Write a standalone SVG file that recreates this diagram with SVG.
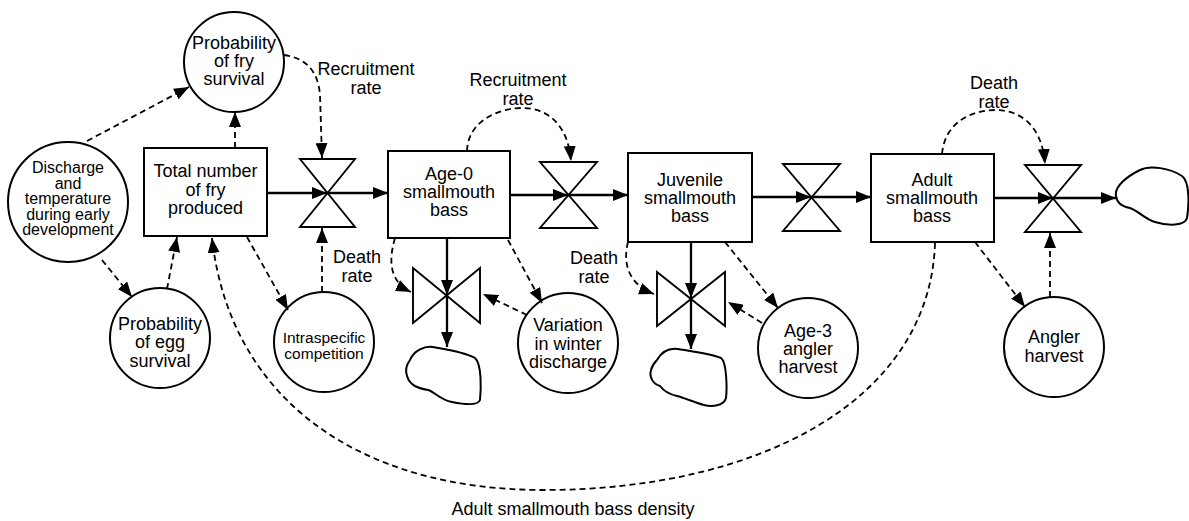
<svg xmlns="http://www.w3.org/2000/svg" width="1189" height="521" viewBox="0 0 1189 521">
<defs>
<style>
.shape{fill:#fff;stroke:#000;stroke-width:2}
.valve{fill:#fff;stroke:#000;stroke-width:1.9;stroke-linejoin:miter}
.cloud{fill:#fff;stroke:#000;stroke-width:2}
.flow{fill:none;stroke:#000;stroke-width:2.3;marker-end:url(#ah)}
.info{fill:none;stroke:#000;stroke-width:1.8;stroke-dasharray:6 4;marker-end:url(#ah)}
text{font-family:"Liberation Sans",Arial,Helvetica,sans-serif;font-size:18px;text-anchor:middle;fill:#000}
.sm{font-size:16px}
.xs{font-size:15.5px}
</style>
<marker id="ah" markerUnits="userSpaceOnUse" viewBox="0 0 15 12" markerWidth="15" markerHeight="12" refX="15" refY="6" orient="auto">
<path d="M0,0 L15,6 L0,12 z" fill="#000"/>
</marker>
</defs>

<g id="discharge">
<circle class="shape" cx="68" cy="202" r="60"/>
<text class="sm" x="68" y="173">Discharge</text>
<text class="sm" x="68" y="188.5">and</text>
<text class="sm" x="68" y="204">temperature</text>
<text class="sm" x="68" y="219.5">during early</text>
<text class="sm" x="68" y="235">development</text>
</g>

<g id="fry-survival">
<circle class="shape" cx="234" cy="62" r="50"/>
<text x="234" y="49">Probability</text>
<text x="234" y="67">of fry</text>
<text x="234" y="85">survival</text>
</g>

<g id="total-fry">
<rect class="shape" x="144" y="148" width="123" height="88"/>
<text x="205.5" y="177">Total number</text>
<text x="205.5" y="196">of fry</text>
<text x="205.5" y="214">produced</text>
</g>

<g id="egg-survival">
<circle class="shape" cx="160" cy="338" r="50"/>
<text x="160" y="330">Probability</text>
<text x="160" y="348">of egg</text>
<text x="160" y="367">survival</text>
</g>

<g id="intraspecific">
<circle class="shape" cx="324" cy="342" r="50"/>
<text class="xs" x="324" y="343">Intraspecific</text>
<text class="xs" x="324" y="359">competition</text>
</g>

<g id="valve-fry">
<path class="valve" d="M300,159 H355 L300,227 H355 Z"/>
</g>

<g id="age0">
<rect class="shape" x="388" y="151" width="122" height="87"/>
<text x="449" y="180">Age-0</text>
<text x="449" y="198">smallmouth</text>
<text x="449" y="216">bass</text>
</g>

<g id="valve-age0">
<path class="valve" d="M540,162 H597 L540,228 H597 Z"/>
</g>

<g id="juvenile">
<rect class="shape" x="628" y="153" width="124" height="89"/>
<text x="690" y="186">Juvenile</text>
<text x="690" y="204">smallmouth</text>
<text x="690" y="222">bass</text>
</g>

<g id="valve-juvenile">
<path class="valve" d="M783,164 H840 L783,231 H840 Z"/>
</g>

<g id="adult">
<rect class="shape" x="871" y="154" width="123" height="88"/>
<text x="932" y="186">Adult</text>
<text x="932" y="204">smallmouth</text>
<text x="932" y="222">bass</text>
</g>

<g id="valve-adult">
<path class="valve" d="M1025,165 H1081 L1025,232 H1081 Z"/>
</g>

<g id="sink-adult">
<path class="cloud" d="M1116,196 C1114,186 1128,176 1140,170 C1150,165 1170,168 1182,176 C1190,182 1189,205 1187,218 C1185,226 1168,226 1155,222 C1145,219 1140,212 1130,208 C1120,206 1117,202 1116,196 Z"/>
</g>

<g id="valve-age0-death">
<path class="valve" d="M413,268 V323 L480,268 V323 Z"/>
</g>

<g id="sink-age0">
<path class="cloud" d="M410,360 C414,350 425,346 433,347 C445,349 465,352 475,358 C482,364 481,390 480,400 C478,406 462,404 452,402 C440,400 435,392 428,390 C418,388 410,386 407,376 C405,370 407,364 410,360 Z"/>
</g>

<g id="variation">
<circle class="shape" cx="568" cy="343" r="50"/>
<text x="568" y="331">Variation</text>
<text x="568" y="349.5">in winter</text>
<text x="568" y="368">discharge</text>
</g>

<g id="valve-juvenile-death">
<path class="valve" d="M657,272 V326 L725,272 V326 Z"/>
</g>

<g id="sink-juvenile">
<path class="cloud" d="M657,360 C662,351 670,348 678,349 C690,351 712,354 721,358 C727,362 727,390 726,398 C724,406 712,407 704,405 C693,402 685,398 677,396 C668,394 663,390 660,386 C653,384 649,377 651,370 C652,366 654,363 657,360 Z"/>
</g>

<g id="age3">
<circle class="shape" cx="808" cy="348" r="50"/>
<text x="808" y="337">Age-3</text>
<text x="808" y="355">angler</text>
<text x="808" y="373">harvest</text>
</g>

<g id="angler">
<circle class="shape" cx="1054" cy="347" r="50"/>
<text x="1054" y="343">Angler</text>
<text x="1054" y="362">harvest</text>
</g>

<g id="connectors">
<path class="flow" d="M267,193 H327"/>
<path class="flow" d="M327,193 H388"/>
<path class="flow" d="M510,195 H568"/>
<path class="flow" d="M568,195 H628"/>
<path class="flow" d="M752,197 H811"/>
<path class="flow" d="M811,197 H871"/>
<path class="flow" d="M994,198 H1053"/>
<path class="flow" d="M1053,198 H1116"/>
<path class="flow" d="M447,238 V295"/>
<path class="flow" d="M447,295 V347"/>
<path class="flow" d="M691,242 V298"/>
<path class="flow" d="M691,298 V349"/>
<path class="info" d="M235,148 V112"/>
<path class="info" d="M87,141 L189,87"/>
<path class="info" d="M284,55 C305,58 318,70 320,95 L322,158"/>
<path class="info" d="M102,260 L132,297"/>
<path class="info" d="M167,289 L177,237"/>
<path class="info" d="M247,237 L288,310"/>
<path class="info" d="M322,292 V228"/>
<path class="info" d="M467,151 C468,120 500,108 522,108 C548,108 568,125 571,161"/>
<path class="info" d="M395,238 C388,262 390,282 411,292"/>
<path class="info" d="M508,240 L542,303"/>
<path class="info" d="M527,315 L483,294"/>
<path class="info" d="M628,242 C622,265 630,285 654,294"/>
<path class="info" d="M725,242 L778,308"/>
<path class="info" d="M762,323 L728,302"/>
<path class="info" d="M942,154 C945,120 975,110 995,110 C1020,110 1042,125 1045,164"/>
<path class="info" d="M1050,297 V233"/>
<path class="info" d="M975,242 L1025,307"/>
<path class="info" d="M935,243 C930,400 760,490 543,490 C360,490 230,400 212,238"/>
</g>

<g id="labels">
<text x="366" y="75">Recruitment</text>
<text x="366" y="93.5">rate</text>
<text x="518" y="86">Recruitment</text>
<text x="518" y="104.5">rate</text>
<text x="357" y="263">Death</text>
<text x="357" y="281.5">rate</text>
<text x="594" y="264">Death</text>
<text x="594" y="283">rate</text>
<text x="994" y="89">Death</text>
<text x="994" y="107.5">rate</text>
<text x="573" y="515">Adult smallmouth bass density</text>
</g>
</svg>
